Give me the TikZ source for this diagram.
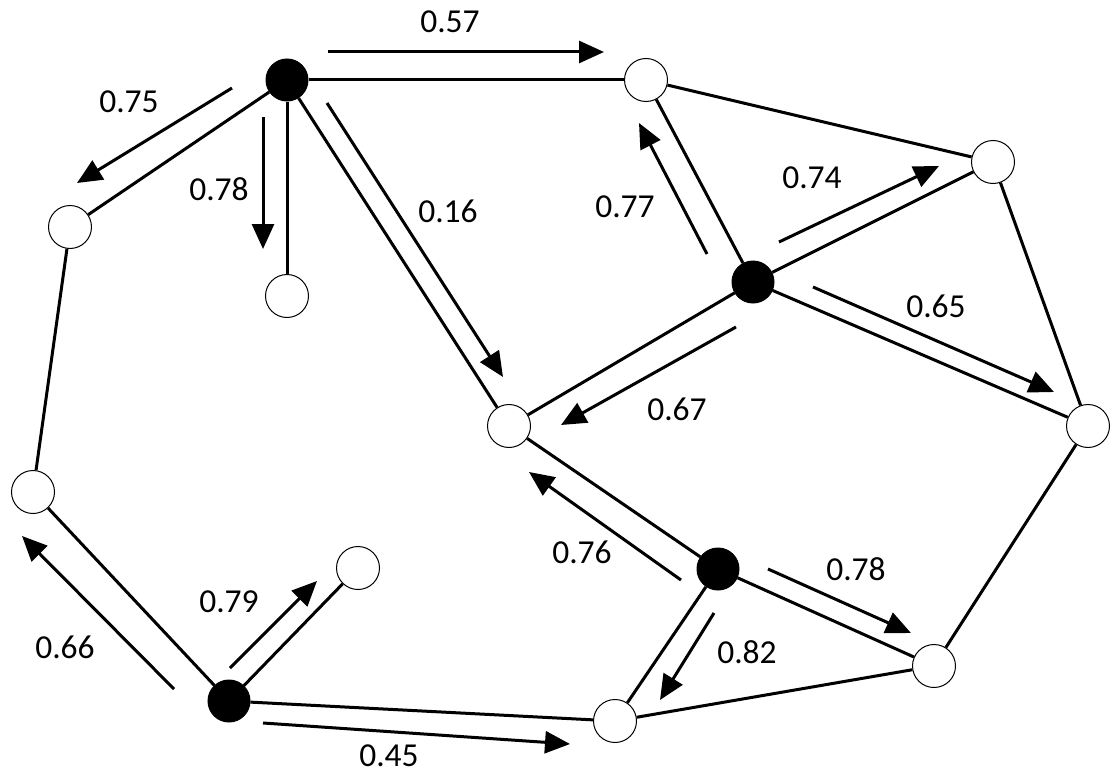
\documentclass[tikz,border=0pt]{standalone}
\usepackage{fontspec}
\setmainfont{Carlito}
\usetikzlibrary{arrows.meta}
\begin{document}
\begin{tikzpicture}[x=1pt,y=-1pt,
  bnode/.style={circle,fill=black,draw=black,line width=1pt,minimum size=42pt,inner sep=0pt},
  wnode/.style={circle,fill=white,draw=black,line width=1pt,minimum size=43pt,inner sep=0pt},
  edge/.style={line width=3pt},
  flow/.style={line width=3pt,-{Triangle[length=25pt,width=22pt]}},
  lbl/.style={font=\fontsize{33.5}{38}\selectfont,inner sep=0pt}]
\useasboundingbox (0,0) rectangle (1114,776);
% nodes
\node[bnode] (B1) at (287,80) {};
\node[bnode] (B2) at (753,282) {};
\node[bnode] (B3) at (718,569) {};
\node[bnode] (B4) at (229,701) {};
\node[wnode] (W1) at (646,80) {};
\node[wnode] (W2) at (993,162) {};
\node[wnode] (W3) at (1088,426) {};
\node[wnode] (W4) at (934,666) {};
\node[wnode] (W5) at (615,721) {};
\node[wnode] (W6) at (509,426) {};
\node[wnode] (W7) at (70,227) {};
\node[wnode] (W8) at (287,296) {};
\node[wnode] (W9) at (33,492) {};
\node[wnode] (W10) at (358,568) {};
% edges
\draw[edge] (B1) -- (W1);
\draw[edge] (B1) -- (W7);
\draw[edge] (B1) -- (W8);
\draw[edge] (B1) -- (W6);
\draw[edge] (W1) -- (W2);
\draw[edge] (W1) -- (B2);
\draw[edge] (B2) -- (W2);
\draw[edge] (W2) -- (W3);
\draw[edge] (B2) -- (W3);
\draw[edge] (B2) -- (W6);
\draw[edge] (W6) -- (B3);
\draw[edge] (B3) -- (W5);
\draw[edge] (B3) -- (W4);
\draw[edge] (W4) -- (W3);
\draw[edge] (W5) -- (W4);
\draw[edge] (B4) -- (W5);
\draw[edge] (B4) -- (W9);
\draw[edge] (B4) -- (W10);
\draw[edge] (W9) -- (W7);
% flow arrow end points
\coordinate (a57s) at (328,52);  \coordinate (a57e) at (604,52);
\coordinate (a75s) at (232,88);  \coordinate (a75e) at (77,183);
\coordinate (a78s) at (263,117); \coordinate (a78e) at (263,249);
\coordinate (a16s) at (327,103); \coordinate (a16e) at (503,377);
\coordinate (a77s) at (707,254); \coordinate (a77e) at (639,123);
\coordinate (a74s) at (779,242); \coordinate (a74e) at (939,166);
\coordinate (a65s) at (813,287); \coordinate (a65e) at (1054,392);
\coordinate (a67s) at (736,327); \coordinate (a67e) at (561,425);
\coordinate (a76s) at (681,580); \coordinate (a76e) at (529,472);
\coordinate (b78s) at (768,569); \coordinate (b78e) at (911,633);
\coordinate (a82s) at (714,613); \coordinate (a82e) at (660,700);
\coordinate (a79s) at (230,668); \coordinate (a79e) at (317,581);
\coordinate (a66s) at (174,689); \coordinate (a66e) at (22,536);
\coordinate (a45s) at (263,723); \coordinate (a45e) at (570,744);
\draw[flow] (a57s) -- (a57e);
\draw[flow] (a75s) -- (a75e);
\draw[flow] (a78s) -- (a78e);
\draw[flow] (a16s) -- (a16e);
\draw[flow] (a77s) -- (a77e);
\draw[flow] (a74s) -- (a74e);
\draw[flow] (a65s) -- (a65e);
\draw[flow] (a67s) -- (a67e);
\draw[flow] (a76s) -- (a76e);
\draw[flow] (b78s) -- (b78e);
\draw[flow] (a82s) -- (a82e);
\draw[flow] (a79s) -- (a79e);
\draw[flow] (a66s) -- (a66e);
\draw[flow] (a45s) -- (a45e);
% labels
\node[lbl] (l57) at (450,22) {0.57};
\node[lbl] (l75) at (129,102) {0.75};
\node[lbl] (l78a) at (219,189) {0.78};
\node[lbl] (l16) at (448,211) {0.16};
\node[lbl] (l77) at (625,207) {0.77};
\node[lbl] (l74) at (812,178) {0.74};
\node[lbl] (l65) at (936,306) {0.65};
\node[lbl] (l67) at (677,409) {0.67};
\node[lbl] (l76) at (582,552) {0.76};
\node[lbl] (l78b) at (856,569) {0.78};
\node[lbl] (l82) at (747,652) {0.82};
\node[lbl] (l79) at (229,602) {0.79};
\node[lbl] (l66) at (65,647) {0.66};
\node[lbl] (l45) at (389,756) {0.45};
\end{tikzpicture}
\end{document}
